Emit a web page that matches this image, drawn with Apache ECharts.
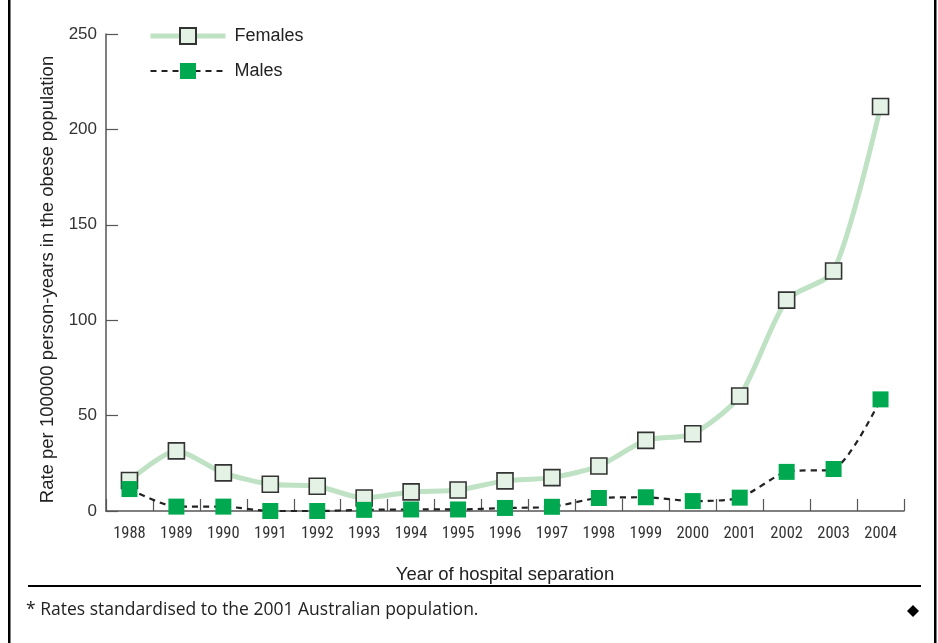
<!DOCTYPE html>
<html>
<head>
<meta charset="utf-8">
<script src="https://cdn.jsdelivr.net/npm/echarts@6/dist/echarts.min.js"></script>
<style>
html,body{margin:0;padding:0;background:#fff;}
#chart{width:938px;height:643px;}
</style>
</head>
<body>
<div id="chart"></div>
<script>
const years = ['1988','1989','1990','1991','1992','1993','1994','1995','1996','1997','1998','1999','2000','2001','2002','2003','2004'];
const females = [16, 31.5, 20, 14, 13, 6.8, 10, 11, 15.8, 17.5, 23.6, 37, 40.5, 60.3, 110.5, 125.8, 212];
const males = [11.5, 2.3, 2.3, 0, 0, 0.6, 0.8, 0.8, 1.6, 2.2, 6.8, 7.2, 5.2, 7.0, 20.5, 22, 58.5];
const yTicks = [0, 50, 100, 150, 200, 250];
const seriesNames = ['Females', 'Males'];
const yAxisTitle = 'Rate per 100000 person-years in the obese population';
const xAxisTitle = 'Year of hospital separation';
const footnote = '* Rates standardised to the 2001 Australian population.';

const sans = "'Liberation Sans', Arial, sans-serif";
const narrow = "'Liberation Sans Narrow', 'Roboto Condensed', 'DejaVu Sans Condensed', sans-serif";
const chart = echarts.init(document.getElementById('chart'), null, {renderer: 'canvas'});
const axisCol = '#555';
const femaleLine = {color: '#bfe2c4', width: 5};
const maleLine = {color: '#222', width: 2.2, type: [6, 5]};
chart.setOption({
  animation: false,
  backgroundColor: '#fff',
  grid: {left: 106, right: 34, top: 34, bottom: 132, containLabel: false},
  legend: {
    left: 148, top: 27, padding: 0, orient: 'vertical', itemGap: 17,
    itemWidth: 75, itemHeight: 20,
    textStyle: {fontFamily: sans, fontSize: 18, color: '#222', padding: [0,0,0,4]},
    data: [
      {name: seriesNames[0], lineStyle: femaleLine},
      {name: seriesNames[1], lineStyle: maleLine}
    ]
  },
  xAxis: {
    type: 'category', data: years, boundaryGap: true,
    name: xAxisTitle, nameLocation: 'middle', nameGap: 54,
    nameTextStyle: {fontFamily: sans, fontSize: 18.5, color: '#222'},
    axisLine: {lineStyle: {color: axisCol, width: 1.5}},
    axisTick: {show: true, inside: true, alignWithLabel: false, length: 12, interval: 0, lineStyle: {color: axisCol, width: 1.2}},
    axisLabel: {interval: 0, margin: 14, fontFamily: narrow, fontSize: 16.5, color: '#333'}
  },
  yAxis: {
    type: 'value', min: yTicks[0], max: yTicks[yTicks.length-1], interval: 50,
    name: yAxisTitle, nameLocation: 'middle', nameGap: 46, nameRotate: 90,
    nameTextStyle: {fontFamily: sans, fontSize: 18.5, color: '#222', padding: [0, 14, 0, 0]},
    axisLine: {show: true, lineStyle: {color: axisCol, width: 1.5}},
    axisTick: {show: true, inside: true, length: 12, lineStyle: {color: axisCol, width: 1.2}},
    splitLine: {show: false},
    axisLabel: {margin: 9, fontFamily: sans, fontSize: 17, color: '#333'}
  },
  series: [
    {
      name: seriesNames[0], type: 'line', data: females, smooth: 0.25,
      symbol: 'rect', symbolSize: 16, z: 3,
      lineStyle: femaleLine,
      itemStyle: {color: '#e3f2e5', borderColor: '#333', borderWidth: 1.6}
    },
    {
      name: seriesNames[1], type: 'line', data: males, smooth: 0.25,
      symbol: 'rect', symbolSize: 16, z: 4,
      lineStyle: maleLine,
      itemStyle: {color: '#00a950', borderWidth: 0}
    }
  ],
  graphic: [
    {type: 'rect', left: 8, top: 0, shape: {width: 2.5, height: 643}, style: {fill: '#000'}, silent: true},
    {type: 'rect', left: 934, top: 0, shape: {width: 2.5, height: 643}, style: {fill: '#000'}, silent: true},
    {type: 'rect', left: 28, top: 585, shape: {width: 893, height: 2}, style: {fill: '#000'}, silent: true},
    {type: 'text', left: 26, top: 601, style: {text: footnote, fontFamily: "'Open Sans', Lato, sans-serif", fontSize: 17.5, fill: '#222'}},
    {type: 'polygon', shape: {points: [[913,605],[919,611],[913,617],[907,611]]}, style: {fill: '#000'}}
  ]
});
</script>
</body>
</html>
